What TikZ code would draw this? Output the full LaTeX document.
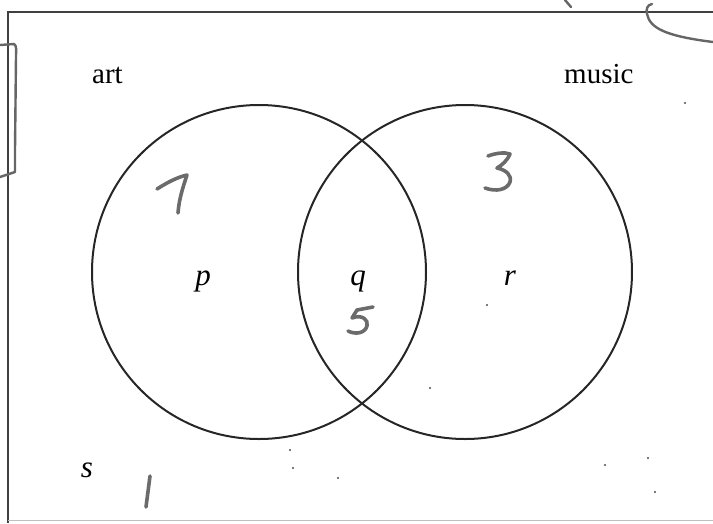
\documentclass[tikz,border=0pt]{standalone}
\usepackage{fontspec}
\setmainfont{Liberation Serif}
\begin{document}
\begin{tikzpicture}[x=1pt,y=-1pt,
  setcircle/.style={draw=black!85,line width=2pt},
  frame/.style={draw=black!75,line width=1.5pt},
  lbl/.style={font=\fontsize{29}{32}\selectfont,inner sep=0pt,anchor=base west},
  ilbl/.style={font=\fontsize{31}{34}\selectfont\itshape,inner sep=0pt,anchor=base},
  hand/.style={draw=black!58,line width=3.6pt,line cap=round,line join=round},
  handthin/.style={draw=black!60,line width=2.4pt,line cap=round,line join=round},
  speck/.style={fill=black!70,draw=none}]
\useasboundingbox (0,0) rectangle (713,523);
% frame (right side cut off)
\draw[frame] (713,12) -- (8,12) -- (8,523);
\draw[draw=black!25,line width=0.8pt] (8,520) -- (713,520);
% sets
\node[setcircle,circle,minimum size=334pt,inner sep=0pt] (art) at (259,272) {};
\node[setcircle,circle,minimum size=334pt,inner sep=0pt] (music) at (465,272) {};
% labels
\node[lbl] (artl) at (92,83) {art};
\node[lbl] (musicl) at (564,83) {music};
\node[ilbl] (p) at (203,285) {p};
\node[ilbl] (q) at (358,285) {q};
\node[ilbl] (r) at (510,285) {r};
\node[ilbl] (s) at (87,477) {s};
% handwritten numbers
\draw[hand] (157,189) .. controls (168,182) and (178,177) .. (187,175) .. controls (182,190) and (179,200) .. (178,213);
\draw[hand] (488,156) .. controls (496,153) and (505,152) .. (510,154) .. controls (507,161) and (502,165) .. (497,168) .. controls (506,170) and (512,175) .. (510,182) .. controls (507,190) and (496,192) .. (485,188);
\draw[hand] (373,307) -- (357,310) -- (352,318) .. controls (362,314) and (369,320) .. (367,326) .. controls (365,333) and (356,335) .. (348,331);
\draw[hand] (150,476) -- (146,507);
% other pen marks
\draw[handthin] (0,45) -- (14,44) .. controls (17,46) and (16,50) .. (16,56) -- (15,150) -- (15,172) -- (0,177);
\draw[handthin] (565,0) -- (571,7);
\draw[handthin] (652,4) .. controls (647,5) and (646,9) .. (647,14) .. controls (650,28) and (665,36) .. (713,42);
% specks
\foreach \sx/\sy in {293/468, 338/478, 605/465, 648/458, 655/492, 430/388, 487/305, 685/103, 290/450}
  \fill[speck] (\sx,\sy) circle (1.2pt);
\end{tikzpicture}
\end{document}
